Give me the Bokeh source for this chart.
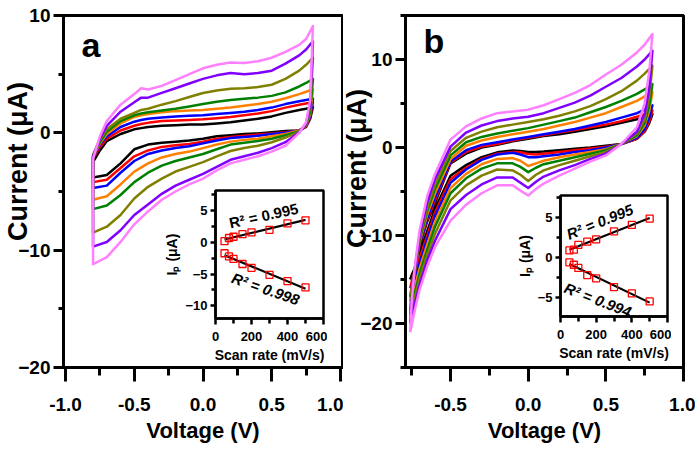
import numpy as np
from math import pi
from bokeh.plotting import figure
from bokeh.layouts import row
from bokeh.models import Range1d, FixedTicker, PrintfTickFormatter, Label
from bokeh.embed import file_html
from bokeh.resources import INLINE

FONT = "Liberation Sans"
COLORS = ["#000000", "#FF0000", "#0000FF", "#FF8000", "#008000", "#808000", "#8000FF", "#FF80FF"]
SCAN_RATES = [50, 75, 100, 150, 200, 300, 400, 500]

# ---------------- panel a : CV curves (forward / reverse branches) ----------------
VA_FWD = [-0.8, -0.75, -0.7, -0.6, -0.5, -0.45, -0.4, -0.3, -0.2, -0.1, 0.0, 0.1, 0.2, 0.3, 0.4, 0.5, 0.6, 0.7, 0.75, 0.8]
VA_REV = [0.8, 0.78, 0.75, 0.7, 0.6, 0.5, 0.4, 0.3, 0.2, 0.1, 0.0, -0.1, -0.2, -0.3, -0.4, -0.5, -0.6, -0.7, -0.8]

A_FWD_BLACK = [-2.5, -1.5, -0.7, -0.1, 0.3, 0.4, 0.5, 0.6, 0.65, 0.7, 0.72, 0.8, 0.9, 1.05, 1.2, 1.4, 1.7, 1.95, 2.05, 2.2]
A_FWD_RED = [-2.2, -1.2, -0.5, 0.2, 0.6, 0.75, 0.85, 1.0, 1.05, 1.1, 1.15, 1.25, 1.35, 1.5, 1.65, 1.85, 2.15, 2.4, 2.5, 2.6]
A_FWD_BLUE = [-2.1, -1.0, -0.3, 0.5, 0.95, 1.1, 1.2, 1.3, 1.4, 1.45, 1.5, 1.6, 1.7, 1.8, 1.95, 2.15, 2.45, 2.7, 2.8, 2.9]
A_FWD_ORANGE = [-2.0, -0.9, -0.1, 0.8, 1.35, 1.5, 1.6, 1.75, 1.85, 1.9, 1.95, 2.05, 2.15, 2.3, 2.45, 2.65, 2.95, 3.3, 3.5, 3.7]
A_FWD_GREEN = [-1.9, -0.8, 0.1, 1.0, 1.5, 1.65, 1.75, 1.9, 2.05, 2.25, 2.45, 2.65, 2.8, 2.9, 3.0, 3.15, 3.45, 3.95, 4.25, 4.6]
A_FWD_OLIVE = [-1.9, -0.6, 0.3, 1.2, 1.7, 1.95, 2.05, 2.4, 2.7, 3.05, 3.4, 3.6, 3.75, 3.8, 3.9, 4.1, 4.6, 5.3, 5.8, 6.4]
A_FWD_PURPLE = [-2.0, -0.5, 0.6, 1.8, 2.6, 3.0, 3.0, 3.4, 3.8, 4.2, 4.6, 4.9, 5.1, 5.0, 5.1, 5.3, 5.9, 6.6, 7.1, 7.8]
A_FWD_MAGENTA = [-2.2, -0.3, 1.0, 2.4, 3.3, 3.8, 3.7, 4.0, 4.5, 5.0, 5.5, 5.8, 6.0, 5.95, 6.1, 6.4, 6.9, 7.5, 8.0, 9.1]

A_REV_BLACK = [2.2, 1.2, 0.5, 0.2, 0.15, 0.05, -0.05, -0.1, -0.2, -0.3, -0.5, -0.65, -0.75, -0.85, -1.0, -1.4, -2.6, -3.6, -3.8]
A_REV_RED = [2.6, 1.3, 0.55, 0.2, 0.05, -0.05, -0.15, -0.25, -0.35, -0.5, -0.75, -0.95, -1.05, -1.2, -1.5, -2.0, -3.0, -4.0, -4.2]
A_REV_BLUE = [2.9, 1.4, 0.6, 0.2, 0.0, -0.1, -0.25, -0.35, -0.45, -0.65, -0.9, -1.15, -1.3, -1.5, -1.8, -2.4, -3.4, -4.5, -4.7]
A_REV_ORANGE = [3.7, 1.6, 0.65, 0.2, -0.1, -0.3, -0.5, -0.6, -0.75, -1.0, -1.3, -1.6, -1.8, -2.1, -2.6, -3.3, -4.4, -5.4, -5.7]
A_REV_GREEN = [4.6, 1.8, 0.7, 0.15, -0.2, -0.5, -0.7, -0.85, -1.0, -1.4, -1.8, -2.1, -2.4, -2.8, -3.4, -4.2, -5.3, -6.2, -6.5]
A_REV_OLIVE = [6.4, 2.2, 0.75, 0.1, -0.4, -0.8, -1.1, -1.3, -1.55, -2.0, -2.5, -2.9, -3.3, -3.9, -4.6, -5.6, -7.0, -8.0, -8.5]
A_REV_PURPLE = [7.8, 2.5, 0.8, 0.05, -0.8, -1.3, -1.7, -2.0, -2.3, -2.9, -3.5, -4.0, -4.5, -5.2, -6.1, -7.0, -8.3, -9.3, -9.7]
A_REV_MAGENTA = [9.1, 2.8, 0.9, 0.0, -1.1, -1.6, -2.0, -2.3, -2.6, -3.2, -3.9, -4.4, -5.0, -5.7, -6.7, -7.8, -9.3, -10.6, -11.2]

# ---------------- panel b ----------------
VB_FWD = [-0.76, -0.75, -0.73, -0.7, -0.65, -0.6, -0.5, -0.4, -0.3, -0.2, -0.1, 0.0, 0.1, 0.2, 0.3, 0.4, 0.5, 0.6, 0.7, 0.75, 0.8]
VB_REV = [0.8, 0.78, 0.75, 0.7, 0.6, 0.5, 0.4, 0.3, 0.2, 0.1, 0.05, 0.0, -0.05, -0.1, -0.2, -0.3, -0.4, -0.5, -0.6, -0.65, -0.7, -0.73, -0.76]

B_FWD_BLACK = [-15.0, -14.5, -13.7, -11.2, -8.4, -6.3, -1.8, -0.7, 0.0, 0.3, 0.7, 1.0, 1.3, 1.5, 1.8, 2.1, 2.4, 2.8, 3.2, 3.5, 3.8]
B_FWD_RED = [-16.0, -15.2, -13.9, -11.1, -8.2, -6.0, -1.7, -0.5, 0.1, 0.4, 0.8, 1.1, 1.4, 1.7, 2.0, 2.3, 2.6, 3.0, 3.5, 3.8, 4.2]
B_FWD_BLUE = [-17.0, -15.8, -14.0, -11.0, -8.0, -5.7, -1.6, -0.3, 0.3, 0.6, 0.9, 1.2, 1.5, 1.8, 2.1, 2.5, 2.9, 3.4, 3.9, 4.3, 4.8]
B_FWD_ORANGE = [-17.5, -16.0, -14.0, -10.8, -7.6, -5.2, -1.3, 0.2, 0.8, 1.2, 1.5, 1.8, 2.1, 2.5, 2.9, 3.4, 3.9, 4.6, 5.3, 5.8, 6.3]
B_FWD_GREEN = [-18.5, -16.5, -14.0, -10.6, -7.2, -4.7, -0.9, 0.6, 1.2, 1.6, 1.9, 2.2, 2.6, 3.0, 3.4, 4.0, 4.6, 5.3, 6.1, 6.6, 7.2]
B_FWD_OLIVE = [-19.0, -16.8, -13.9, -10.3, -6.8, -4.2, -0.4, 1.1, 1.8, 2.3, 2.6, 2.9, 3.2, 3.6, 4.1, 4.7, 5.5, 6.4, 7.6, 8.4, 9.3]
B_FWD_PURPLE = [-20.0, -17.3, -13.8, -10.0, -6.2, -3.6, 0.1, 1.7, 2.5, 3.0, 3.3, 3.5, 3.9, 4.5, 5.1, 5.9, 6.9, 7.9, 9.2, 10.0, 11.0]
B_FWD_MAGENTA = [-21.0, -17.5, -13.5, -9.5, -5.5, -3.0, 0.9, 2.4, 3.3, 3.9, 4.1, 4.3, 4.8, 5.5, 6.2, 7.1, 8.3, 9.4, 10.8, 11.7, 12.9]

B_REV_BLACK = [3.8, 2.8, 1.8, 1.0, 0.4, 0.2, 0.0, -0.15, -0.3, -0.45, -0.5, -0.5, -0.4, -0.35, -0.55, -1.1, -2.0, -3.2, -7.0, -9.5, -12.0, -14.0, -15.0]
B_REV_RED = [4.2, 3.0, 1.9, 1.0, 0.4, 0.1, -0.1, -0.3, -0.5, -0.7, -0.8, -0.75, -0.55, -0.5, -0.7, -1.3, -2.3, -3.6, -7.4, -10.0, -12.6, -14.6, -16.0]
B_REV_BLUE = [4.8, 3.4, 2.1, 1.1, 0.4, 0.0, -0.3, -0.5, -0.8, -1.0, -1.1, -1.1, -0.8, -0.6, -0.8, -1.4, -2.5, -4.0, -7.8, -10.4, -13.2, -15.3, -17.0]
B_REV_ORANGE = [6.3, 4.2, 2.5, 1.3, 0.4, -0.2, -0.5, -0.8, -1.1, -1.5, -1.8, -2.1, -1.5, -1.2, -1.3, -1.9, -3.0, -4.6, -8.4, -11.0, -13.8, -15.8, -17.5]
B_REV_GREEN = [7.2, 4.8, 2.8, 1.4, 0.4, -0.3, -0.7, -1.1, -1.5, -1.9, -2.3, -2.8, -2.2, -1.8, -1.8, -2.4, -3.5, -5.2, -9.0, -11.6, -14.4, -16.5, -18.5]
B_REV_OLIVE = [9.3, 5.8, 3.2, 1.6, 0.4, -0.5, -1.0, -1.5, -2.0, -2.6, -3.1, -3.8, -3.1, -2.6, -2.5, -3.2, -4.3, -6.0, -9.8, -12.2, -15.0, -17.0, -19.0]
B_REV_PURPLE = [11.0, 6.8, 3.8, 1.8, 0.4, -0.7, -1.3, -2.0, -2.6, -3.3, -3.9, -4.6, -4.0, -3.4, -3.4, -4.2, -5.4, -7.0, -10.6, -12.8, -15.6, -17.8, -20.0]
B_REV_MAGENTA = [12.9, 8.7, 5.0, 2.3, 0.4, -0.9, -1.6, -2.4, -3.2, -4.1, -4.7, -5.45, -4.9, -4.3, -4.3, -5.2, -6.5, -8.3, -11.3, -13.5, -16.2, -18.5, -21.0]

# ---------------- insets : peak current vs scan rate ----------------
A_IPA = [0.2, 0.7, 0.9, 1.3, 1.6, 2.0, 3.0, 3.5]
A_IPC = [-1.7, -2.2, -2.6, -3.4, -4.0, -5.1, -6.1, -7.1]
B_IPA = [0.9, 1.0, 1.6, 2.0, 2.3, 3.3, 4.1, 4.9]
B_IPC = [-0.6, -0.9, -1.3, -2.2, -2.6, -3.7, -4.5, -5.5]
A_R2 = ["R² = 0.995", "R² = 0.998"]
B_R2 = ["R² = 0.995", "R² = 0.994"]

A_FWD = [A_FWD_BLACK, A_FWD_RED, A_FWD_BLUE, A_FWD_ORANGE, A_FWD_GREEN, A_FWD_OLIVE, A_FWD_PURPLE, A_FWD_MAGENTA]
A_REV = [A_REV_BLACK, A_REV_RED, A_REV_BLUE, A_REV_ORANGE, A_REV_GREEN, A_REV_OLIVE, A_REV_PURPLE, A_REV_MAGENTA]
B_FWD = [B_FWD_BLACK, B_FWD_RED, B_FWD_BLUE, B_FWD_ORANGE, B_FWD_GREEN, B_FWD_OLIVE, B_FWD_PURPLE, B_FWD_MAGENTA]
B_REV = [B_REV_BLACK, B_REV_RED, B_REV_BLUE, B_REV_ORANGE, B_REV_GREEN, B_REV_OLIVE, B_REV_PURPLE, B_REV_MAGENTA]


def style_axis(ax, tick_out, minor_out, width, label_size, standoff):
    ax.axis_line_width = width
    ax.axis_line_color = "black"
    ax.major_tick_line_width = width
    ax.minor_tick_line_width = width
    ax.major_tick_line_color = "black"
    ax.minor_tick_line_color = "black"
    ax.major_tick_in = 0
    ax.minor_tick_in = 0
    ax.major_tick_out = tick_out
    ax.minor_tick_out = minor_out
    ax.major_label_text_font = FONT
    ax.major_label_text_font_style = "bold"
    ax.major_label_text_font_size = label_size
    ax.major_label_text_color = "black"
    ax.major_label_standoff = standoff
    ax.axis_label_text_font = FONT
    ax.axis_label_text_font_style = "bold"
    ax.axis_label_text_color = "black"


def main_panel(xr, yr, xt, xm, yt, ym, mbl, mbr, mbt, mbb, fw, fh, vf, vr, fwd, rev, letter, lx, ly):
    p = figure(frame_width=fw, frame_height=fh, title=None,
               x_range=Range1d(*xr), y_range=Range1d(*yr),
               min_border_left=mbl, min_border_right=mbr, min_border_top=mbt, min_border_bottom=mbb,
               toolbar_location=None, output_backend="svg")
    p.grid.visible = False
    p.outline_line_color = "black"
    p.outline_line_width = 3
    p.outline_line_alpha = 1
    p.background_fill_color = "white"
    p.border_fill_color = "white"
    p.xaxis.ticker = FixedTicker(ticks=xt, minor_ticks=xm)
    p.yaxis.ticker = FixedTicker(ticks=yt, minor_ticks=ym)
    p.xaxis.formatter = PrintfTickFormatter(format="%.1f")
    style_axis(p.xaxis[0], 14, 8, 3, "19px", 16)
    style_axis(p.yaxis[0], 10, 5, 3, "19px", 3)
    p.xaxis.axis_label = "Voltage (V)"
    p.xaxis.axis_label_text_font_size = "22px"
    p.xaxis.axis_label_standoff = 4
    for f, r, c in zip(fwd, rev, COLORS):
        xs = list(vf) + list(vr) + [vf[0]]
        ys = list(f) + list(r) + [f[0]]
        p.line(xs, ys, line_color=c, line_width=2.5, line_join="round")
    p.add_layout(Label(x=lx, y=ly, text=letter, text_font=FONT, text_font_style="bold",
                       text_color="black", text_font_size="34px",
                       text_baseline="alphabetic", text_align="left"))
    return p


def title_overlay(text, cx, cy, w, h, size):
    p = figure(frame_width=w, frame_height=h, title=None, x_range=Range1d(0, 1), y_range=Range1d(0, 1),
               min_border_left=0, min_border_right=0, min_border_top=0, min_border_bottom=0,
               x_axis_location=None, y_axis_location=None,
               toolbar_location=None, output_backend="svg",
               styles={"position": "absolute", "left": f"{cx - w // 2}px", "top": f"{cy - h // 2}px",
                       "width": f"{w}px", "height": f"{h}px", "z-index": "5"})
    p.grid.visible = False
    p.outline_line_color = None
    p.background_fill_alpha = 0
    p.border_fill_alpha = 0
    p.add_layout(Label(x=0.5, y=0.5, text=text, angle=pi / 2, text_font=FONT, text_font_style="bold",
                       text_color="black", text_font_size=size,
                       text_align="center", text_baseline="middle"))
    return p


def inset_panel(yr, yt, ym, fw, fh, frame_left, frame_top, ipa, ipc, r2, r2pos):
    mbl, mbr, mbt, mbb = 56, 4, 5, 58
    p = figure(frame_width=fw, frame_height=fh, title=None,
               x_range=Range1d(0, 600), y_range=Range1d(*yr),
               min_border_left=mbl, min_border_right=mbr, min_border_top=mbt, min_border_bottom=mbb,
               toolbar_location=None, output_backend="svg",
               styles={"position": "absolute", "left": f"{frame_left - mbl}px",
                       "top": f"{frame_top - mbt}px", "z-index": "10",
                       "width": f"{mbl + fw + mbr}px", "height": f"{mbt + fh + mbb}px"})
    p.grid.visible = False
    p.outline_line_color = "black"
    p.outline_line_width = 2.5
    p.outline_line_alpha = 1
    p.background_fill_color = "white"
    p.border_fill_alpha = 0
    p.xaxis.ticker = FixedTicker(ticks=[0, 200, 400, 600], minor_ticks=[100, 300, 500])
    p.yaxis.ticker = FixedTicker(ticks=yt, minor_ticks=ym)
    style_axis(p.xaxis[0], 6, 5, 2.5, "13px", 7)
    style_axis(p.yaxis[0], 5, 4, 2.5, "13px", 3)
    p.xaxis.axis_label = "Scan rate (mV/s)"
    p.xaxis.axis_label_text_font_size = "14px"
    p.xaxis.axis_label_standoff = 3
    p.yaxis.axis_label = "Iₚ (μA)"
    p.yaxis.axis_label_text_font_size = "14px"
    p.yaxis.axis_label_standoff = 2
    sr = np.array(SCAN_RATES, dtype=float)
    for vals in (ipa, ipc):
        k, b = np.polyfit(sr, np.array(vals, dtype=float), 1)
        p.line([sr[0], sr[-1]], [k * sr[0] + b, k * sr[-1] + b], line_color="black", line_width=2.2)
        p.scatter(SCAN_RATES, vals, marker="square", size=7, fill_color=None,
                  line_color="#FF0000", line_width=1.3)
    for txt, (x, y, ang, style) in zip(r2, r2pos):
        p.add_layout(Label(x=x, y=y, text=txt, angle=ang * pi / 180, text_font=FONT,
                           text_font_style=style, text_font_size="15px", text_color="black",
                           text_align="center", text_baseline="middle"))
    return p


pa = main_panel((-1.015, 1.015), (-20, 10), [-1, -0.5, 0, 0.5, 1], [-0.75, -0.25, 0.25, 0.75],
                [-20, -10, 0, 10], [-15, -5, 5], 63, 1, 13, 87, 279, 352,
                VA_FWD, VA_REV, A_FWD, A_REV, "a", -0.884, 7.5)
pb = main_panel((-0.79, 1.0), (-25, 15), [-0.5, 0, 0.5, 1], [-0.75, -0.25, 0.25, 0.75],
                [-20, -10, 0, 10], [-25, -15, -5, 5, 15], 62, 12, 15, 85, 278, 352,
                VB_FWD, VB_REV, B_FWD, B_REV, "b", -0.674, 12.15)

ta = title_overlay("Current (μA)", 17, 146, 40, 240, "27px")
tb = title_overlay("Current (μA)", 356, 153, 40, 240, "27px")

ia = inset_panel((-12, 8.2), [-10, -5, 0, 5], [-7.5, -2.5, 2.5, 7.5], 108, 128, 215, 180,
                 A_IPA, A_IPC, A_R2, [(268, 4.25, 12.4, "bold"), (278, -7.3, -19, "bold italic")])
ib = inset_panel((-7.4, 7.8), [-5, 0, 5], [-7.5, -2.5, 2.5, 7.5], 107, 121, 560, 185,
                 B_IPA, B_IPC, B_R2, [(220, 4.5, 22, "bold italic"), (209, -5.3, -21, "bold italic")])

layout = row(pa, pb, ta, tb, ia, ib)
open("out.html", "w").write(file_html(layout, INLINE))
